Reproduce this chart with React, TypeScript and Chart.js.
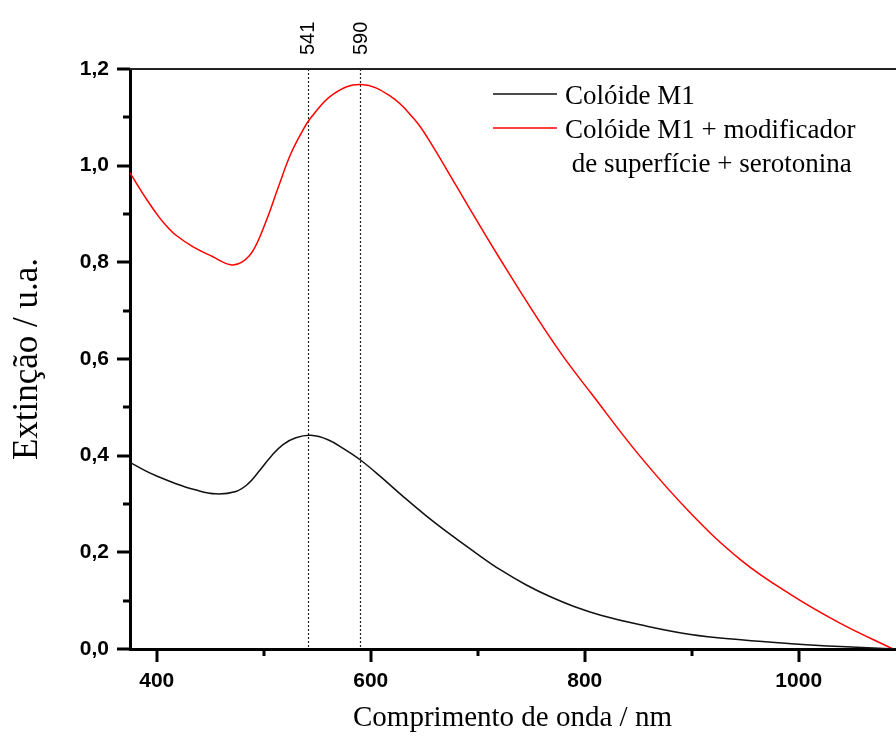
import React, { useEffect, useRef } from "react";
import { Chart, registerables } from "chart.js";

Chart.register(...registerables);

// Colóide M1 (black)
const wavelengthM1 = [375, 390, 400, 418, 435, 455, 474, 485, 495, 507, 518, 530, 544, 560, 575, 591, 610, 628, 651, 675, 700, 721, 745, 768, 790, 815, 852, 899, 946, 993, 1039, 1090];
const extinctionM1 = [0.386, 0.368, 0.358, 0.342, 0.330, 0.321, 0.326, 0.341, 0.366, 0.399, 0.423, 0.437, 0.442, 0.433, 0.414, 0.390, 0.355, 0.320, 0.277, 0.236, 0.196, 0.164, 0.133, 0.108, 0.088, 0.070, 0.050, 0.030, 0.019, 0.011, 0.005, 0.0];

// Colóide M1 + modificador de superfície + serotonina (red)
const wavelengthMod = [375, 390, 402, 410, 418, 434, 452, 469, 480, 490, 502, 514, 525, 535, 544, 565, 591, 619, 640, 653, 680, 700, 720, 740, 760, 780, 806, 852, 899, 946, 993, 1039, 1088];
const extinctionMod = [0.985, 0.932, 0.894, 0.873, 0.856, 0.832, 0.812, 0.795, 0.801, 0.824, 0.884, 0.958, 1.023, 1.067, 1.099, 1.148, 1.168, 1.143, 1.098, 1.058, 0.958, 0.883, 0.810, 0.739, 0.670, 0.605, 0.529, 0.398, 0.281, 0.184, 0.112, 0.053, 0.0];

const peakMarkers = [541, 590];
const xTickValues = [400, 500, 600, 700, 800, 900, 1000];
const xLabeledTicks = [400, 600, 800, 1000];
const yTickValues = [0, 0.1, 0.2, 0.3, 0.4, 0.5, 0.6, 0.7, 0.8, 0.9, 1.0, 1.1, 1.2];
const yLabeledTicks = [0, 0.2, 0.4, 0.6, 0.8, 1.0, 1.2];

const seriesLabels = [["Colóide M1"], ["Colóide M1 + modificador", " de superfície + serotonina"]];
const xTitle = "Comprimento de onda / nm";
const yTitle = "Extinção / u.a.";

const SERIF = "'Liberation Serif', 'Times New Roman', serif";
const SANS = "'Liberation Sans', Arial, sans-serif";

const isLabeled = (list: number[], v: number) => list.some((t) => Math.abs(t - v) < 1e-6);

const overlayPlugin = {
  id: "overlay",
  beforeDatasetsDraw(chart: any) {
    const { ctx, chartArea, scales } = chart;
    const { top, bottom } = chartArea;
    ctx.save();
    ctx.strokeStyle = "#222";
    ctx.lineWidth = 1.2;
    ctx.setLineDash([2, 2]);
    peakMarkers.forEach((p) => {
      const px = Math.round(scales.x.getPixelForValue(p)) + 0.5;
      ctx.beginPath();
      ctx.moveTo(px, top);
      ctx.lineTo(px, bottom);
      ctx.stroke();
    });
    ctx.restore();
  },
  afterDraw(chart: any) {
    const { ctx, chartArea, scales } = chart;
    const { left, right, top, bottom } = chartArea;
    ctx.save();
    // top frame line
    ctx.strokeStyle = "#222";
    ctx.lineWidth = 2;
    ctx.beginPath();
    ctx.moveTo(left, top);
    ctx.lineTo(right + 2, top);
    ctx.stroke();

    // ticks
    ctx.strokeStyle = "#000";
    ctx.lineWidth = 3;
    xTickValues.forEach((v) => {
      const px = Math.round(scales.x.getPixelForValue(v));
      const len = isLabeled(xLabeledTicks, v) ? 13 : 7;
      ctx.beginPath();
      ctx.moveTo(px, bottom);
      ctx.lineTo(px, bottom + len);
      ctx.stroke();
    });
    yTickValues.forEach((v) => {
      const py = Math.round(scales.y.getPixelForValue(v));
      const len = isLabeled(yLabeledTicks, v) ? 13 : 7;
      ctx.beginPath();
      ctx.moveTo(left, py);
      ctx.lineTo(left - len, py);
      ctx.stroke();
    });

    // peak labels
    ctx.fillStyle = "#000";
    ctx.font = `20px ${SANS}`;
    ctx.textAlign = "left";
    ctx.textBaseline = "middle";
    peakMarkers.forEach((p) => {
      const px = scales.x.getPixelForValue(p) + 1;
      ctx.save();
      ctx.translate(px, top - 14);
      ctx.rotate(-Math.PI / 2);
      ctx.fillText(String(p), 0, 0);
      ctx.restore();
    });

    // legend
    const ds = chart.data.datasets;
    const lineX0 = 493;
    const lineX1 = 557;
    const textX = 565;
    const lineYs = [94, 128];
    ctx.font = `27px ${SERIF}`;
    ctx.textBaseline = "alphabetic";
    ctx.textAlign = "left";
    let row = 0;
    ds.forEach((d: any, i: number) => {
      const ly = lineYs[i];
      ctx.strokeStyle = d.borderColor;
      ctx.lineWidth = 1.5;
      ctx.beginPath();
      ctx.moveTo(lineX0, ly);
      ctx.lineTo(lineX1, ly);
      ctx.stroke();
      seriesLabels[i].forEach((txt, j) => {
        ctx.fillStyle = "#000";
        ctx.fillText(txt, textX, 104 + (row + j) * 34);
      });
      row += seriesLabels[i].length;
    });

    // axis titles
    ctx.fillStyle = "#000";
    ctx.font = `29px ${SERIF}`;
    ctx.textAlign = "center";
    ctx.textBaseline = "middle";
    ctx.fillText(xTitle, (left + right) / 2, 718);
    ctx.save();
    ctx.font = `35px ${SERIF}`;
    ctx.translate(28, (top + bottom) / 2);
    ctx.rotate(-Math.PI / 2);
    ctx.fillText(yTitle, 0, 0);
    ctx.restore();
    ctx.restore();
  },
};

export default function App() {
  const canvasRef = useRef<HTMLCanvasElement | null>(null);

  useEffect(() => {
    if (!canvasRef.current) return;
    const chart = new Chart(canvasRef.current, {
      type: "line",
      data: {
        datasets: [
          {
            label: seriesLabels[0].join(""),
            data: wavelengthM1.map((x, i) => ({ x, y: extinctionM1[i] })),
            borderColor: "#111111",
            borderWidth: 1.5,
            pointRadius: 0,
            tension: 0.4,
            fill: false,
          },
          {
            label: seriesLabels[1].join(""),
            data: wavelengthMod.map((x, i) => ({ x, y: extinctionMod[i] })),
            borderColor: "#ff0000",
            borderWidth: 1.5,
            pointRadius: 0,
            tension: 0.4,
            fill: false,
          },
        ],
      },
      options: {
        animation: false,
        responsive: false,
        maintainAspectRatio: false,
        layout: { padding: { left: 0, top: 69, right: 1, bottom: 0 } },
        plugins: {
          legend: { display: false },
          tooltip: { enabled: false },
          title: { display: false },
        },
        scales: {
          x: {
            type: "linear",
            min: 375,
            max: 1090,
            afterBuildTicks: (scale: any) => {
              scale.ticks = xTickValues.map((v) => ({ value: v }));
            },
            afterFit: (scale: any) => {
              scale.height = 93;
            },
            border: { display: true, color: "#000", width: 3 },
            grid: { display: true, drawOnChartArea: false, drawTicks: false },
            ticks: {
              padding: 20,
              maxRotation: 0,
              autoSkip: false,
              color: "#000",
              font: { family: SANS, size: 21, weight: "bold" },
              callback: (v: any) => (isLabeled(xLabeledTicks, Number(v)) ? String(v) : ""),
            },
          },
          y: {
            type: "linear",
            min: 0,
            max: 1.2,
            afterBuildTicks: (scale: any) => {
              scale.ticks = yTickValues.map((v) => ({ value: v }));
            },
            afterFit: (scale: any) => {
              scale.width = 130;
            },
            border: { display: true, color: "#000", width: 3 },
            grid: { display: true, drawOnChartArea: false, drawTicks: false },
            ticks: {
              padding: 21,
              autoSkip: false,
              color: "#000",
              font: { family: SANS, size: 21, weight: "bold" },
              callback: (v: any) =>
                isLabeled(yLabeledTicks, Number(v)) ? Number(v).toFixed(1).replace(".", ",") : "",
            },
          },
        },
      },
      plugins: [overlayPlugin],
    });
    return () => chart.destroy();
  }, []);

  return (
    <div style={{ position: "fixed", left: 0, top: 0, width: 896, height: 742, background: "#fff" }}>
      <canvas ref={canvasRef} width={896} height={742} style={{ width: 896, height: 742, display: "block" }} />
    </div>
  );
}
